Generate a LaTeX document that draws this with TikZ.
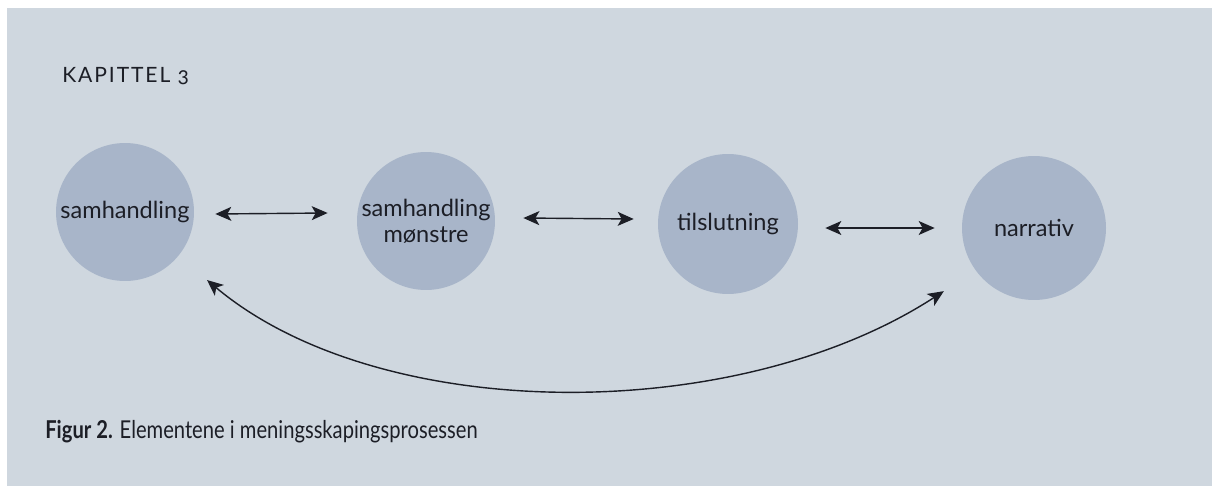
\documentclass[tikz,border=0pt]{standalone}
\usepackage{fontspec}
\setmainfont{Lato}
\newfontfamily\kapfont[LetterSpace=9,Numbers=OldStyle]{Lato}
\newfontfamily\capfont[FakeStretch=0.82]{Lato}
\usepackage{xcolor}
\usepackage{tikz}
\usetikzlibrary{arrows.meta}
\definecolor{side}{RGB}{207,215,223}
\definecolor{sirkel}{RGB}{168,181,201}
\definecolor{blekk}{RGB}{28,30,38}
\tikzset{
  Sirkel/.style={circle, fill=sirkel, minimum size=#1, inner sep=0pt,
    align=center, text=blekk, font=\fontsize{13.4}{15}\selectfont},
  Pil/.style={blekk, line width=0.8pt, {Stealth[length=3.2mm,width=2.8mm,inset=0.8mm]}-{Stealth[length=3.2mm,width=2.8mm,inset=0.8mm]}}
}

\begin{document}
\begin{tikzpicture}[x=0.02cm, y=-0.02cm]
\useasboundingbox (0,0) rectangle (1212,486);
\fill[white] (0,0) rectangle (1212,486);
\fill[side] (7,8) rectangle (1212,486);

%Overskrift
\node[anchor=base west, inner sep=0pt, text=blekk, font=\kapfont\fontsize{12}{14}\selectfont] (kap) at (62,83) {KAPITTEL 3};

%Sirkler
\node[Sirkel=2.76cm] (sam) at (125,212) {samhandling};
\node[Sirkel=2.76cm] (msn) at (426,221) {samhandling\\mønstre};
\node[Sirkel=2.8cm] (tls) at (728,224) {tilslutning};
\node[Sirkel=2.88cm] (nar) at (1034,228) {narrativ};

%Piler
\draw[Pil] ([shift={(21,2)}]sam.east) -- ([shift={(-29,-8)}]msn.west);
\draw[Pil] ([shift={(28,-3)}]msn.east) -- ([shift={(-24,-5)}]tls.west);
\draw[Pil] ([shift={(27,4)}]tls.east) -- ([shift={(-27,0)}]nar.west);
\draw[Pil] ([shift={(33,19)}]sam.south east) .. controls +(173,145) and +(-208,135) .. ([shift={(-39,12)}]nar.south west);

%Figurtekst
\node[anchor=base west, inner sep=0pt, text=blekk, font=\capfont\fontsize{14}{16}\selectfont] (fig) at (45,438) {\textbf{Figur 2.} Elementene i meningsskapingsprosessen};
\end{tikzpicture}
\end{document}
